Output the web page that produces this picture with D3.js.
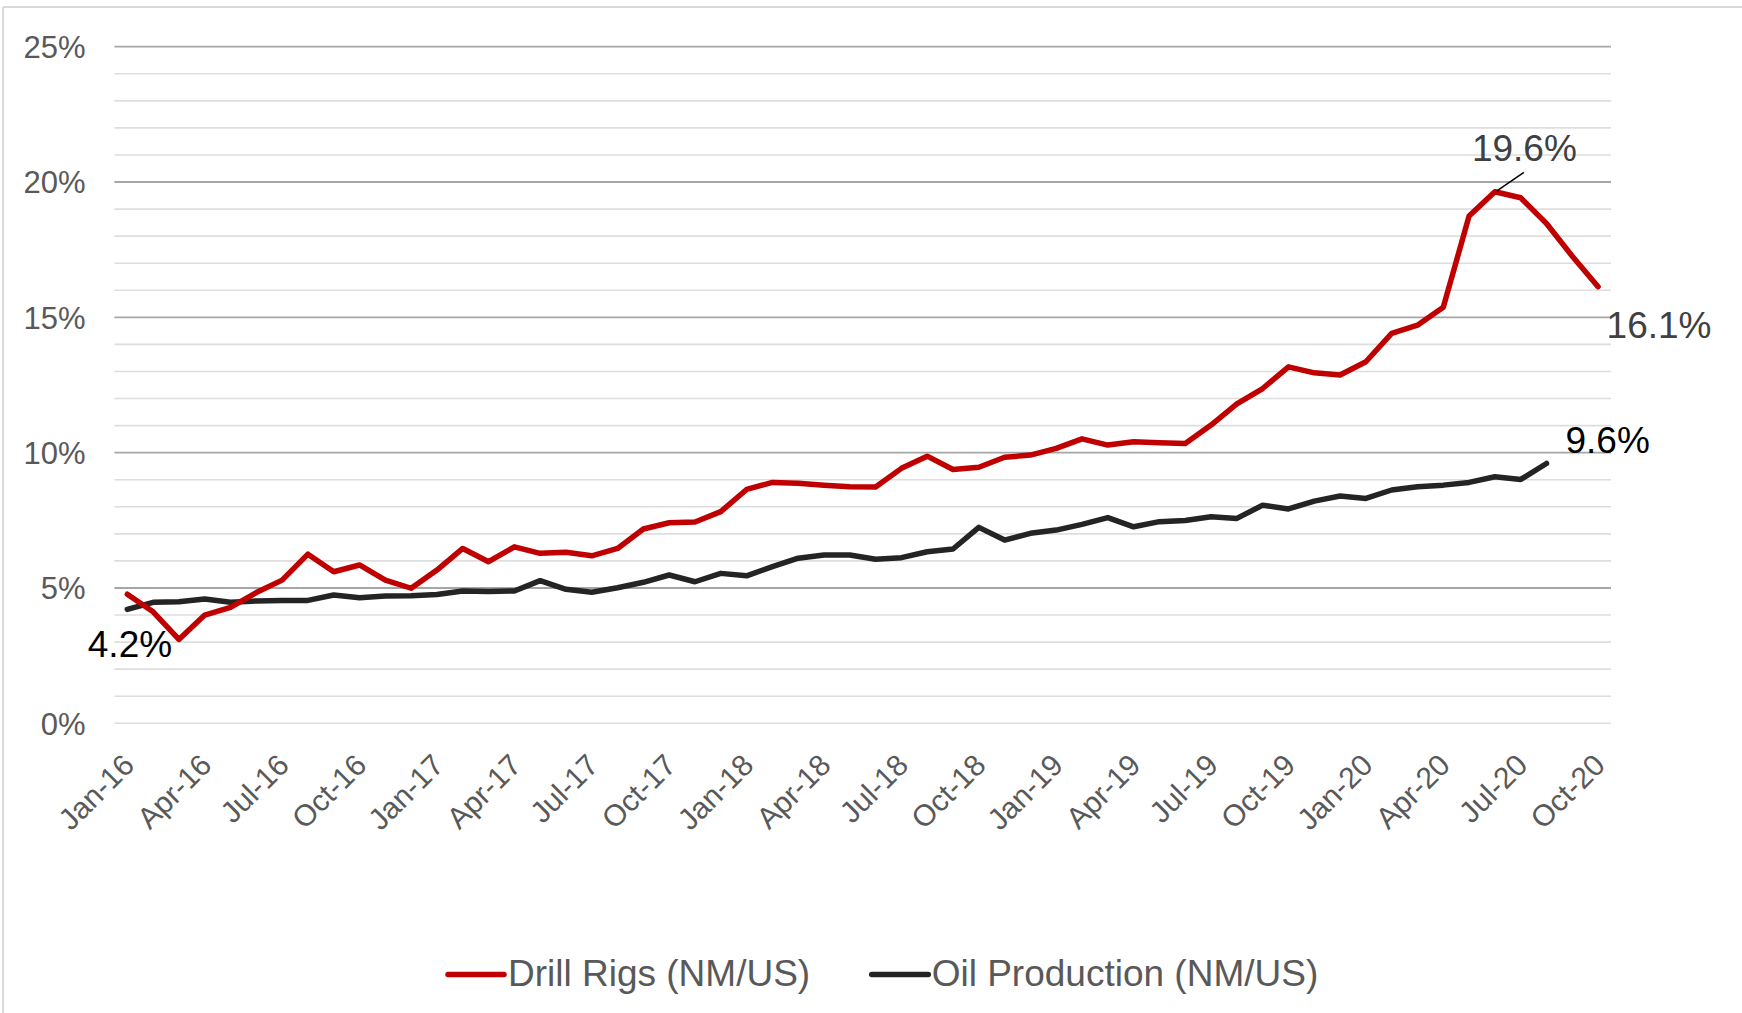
<!DOCTYPE html>
<html>
<head>
<meta charset="utf-8">
<script src="https://cdn.jsdelivr.net/npm/d3@7"></script>
<style>
  html, body { margin: 0; padding: 0; background: #fff; }
  svg { display: block; font-family: "Liberation Sans", Arial, sans-serif; }
</style>
</head>
<body>
<svg id="chart" width="1742" height="1013"></svg>
<script>
// ---- data ----
const months = [
  "Jan-16","Feb-16","Mar-16","Apr-16","May-16","Jun-16","Jul-16","Aug-16","Sep-16","Oct-16","Nov-16","Dec-16",
  "Jan-17","Feb-17","Mar-17","Apr-17","May-17","Jun-17","Jul-17","Aug-17","Sep-17","Oct-17","Nov-17","Dec-17",
  "Jan-18","Feb-18","Mar-18","Apr-18","May-18","Jun-18","Jul-18","Aug-18","Sep-18","Oct-18","Nov-18","Dec-18",
  "Jan-19","Feb-19","Mar-19","Apr-19","May-19","Jun-19","Jul-19","Aug-19","Sep-19","Oct-19","Nov-19","Dec-19",
  "Jan-20","Feb-20","Mar-20","Apr-20","May-20","Jun-20","Jul-20","Aug-20","Sep-20","Oct-20"
];
const tickLabels = ["Jan-16","Apr-16","Jul-16","Oct-16","Jan-17","Apr-17","Jul-17","Oct-17","Jan-18","Apr-18",
  "Jul-18","Oct-18","Jan-19","Apr-19","Jul-19","Oct-19","Jan-20","Apr-20","Jul-20","Oct-20"];
const drillRigs = [
  4.77, 4.12, 3.10, 4.00, 4.28, 4.83, 5.29, 6.25, 5.60, 5.85, 5.29, 4.99,
  5.66, 6.46, 5.97, 6.52, 6.28, 6.32, 6.19, 6.46, 7.18, 7.41, 7.44, 7.82,
  8.64, 8.90, 8.87, 8.80, 8.74, 8.73, 9.42, 9.87, 9.38, 9.46, 9.83, 9.91,
  10.16, 10.51, 10.28, 10.40, 10.37, 10.34, 11.02, 11.80, 12.37, 13.17, 12.95, 12.87,
  13.36, 14.41, 14.71, 15.37, 18.74, 19.64, 19.42, 18.47, 17.26, 16.13
];
const oilProduction = [
  4.21, 4.47, 4.49, 4.59, 4.47, 4.52, 4.54, 4.54, 4.74, 4.64, 4.70, 4.71,
  4.76, 4.89, 4.87, 4.89, 5.27, 4.95, 4.84, 5.01, 5.21, 5.48, 5.23, 5.54,
  5.45, 5.79, 6.10, 6.22, 6.22, 6.06, 6.12, 6.34, 6.44, 7.24, 6.77, 7.02,
  7.14, 7.35, 7.60, 7.26, 7.45, 7.49, 7.63, 7.57, 8.06, 7.92, 8.21, 8.40,
  8.31, 8.62, 8.74, 8.80, 8.90, 9.11, 9.01, 9.60
];
const seriesNames = ["Drill Rigs (NM/US)", "Oil Production (NM/US)"];
const majorTicks = [0, 5, 10, 15, 20, 25];
const minorTicks = d3.range(0, 26, 1);

// ---- layout ----
const W = 1742, H = 1013;
const plot = { left: 114.4, right: 1611, top: 46.7, bottom: 723.3 };
const svg = d3.select("#chart");

svg.append("rect").attr("width", W).attr("height", H).attr("fill", "#fff");
// chart frame (top and left edges visible)
svg.append("line").attr("x1", 3).attr("x2", W).attr("y1", 7).attr("y2", 7)
  .attr("stroke", "#d9d9d9").attr("stroke-width", 2);
svg.append("line").attr("x1", 3).attr("x2", 3).attr("y1", 7).attr("y2", H)
  .attr("stroke", "#d9d9d9").attr("stroke-width", 2);

const x = d3.scaleBand().domain(months).range([plot.left, plot.right]).padding(0);
const xc = m => x(m) + x.bandwidth() / 2;
const y = d3.scaleLinear().domain([0, 25]).range([plot.bottom, plot.top]);

// minor gridlines
svg.append("g").selectAll("line")
  .data(minorTicks.filter(v => v % 5 !== 0 || v === 0))
  .join("line")
  .attr("x1", plot.left).attr("x2", plot.right)
  .attr("y1", d => y(d)).attr("y2", d => y(d))
  .attr("stroke", "#dedede").attr("stroke-width", 1.6);

// major gridlines
svg.append("g").selectAll("line")
  .data(majorTicks.filter(v => v !== 0))
  .join("line")
  .attr("x1", plot.left).attr("x2", plot.right)
  .attr("y1", d => y(d)).attr("y2", d => y(d))
  .attr("stroke", "#a6a6a6").attr("stroke-width", 1.8);

// y axis labels
const yAxis = d3.axisLeft(y).tickValues(majorTicks).tickFormat(d => d + "%").tickSize(0).tickPadding(0);
const gy = svg.append("g").attr("transform", `translate(${85.5},0)`).call(yAxis);
gy.select(".domain").remove();
gy.selectAll("text").attr("fill", "#595959").style("font-size", "31px")
  .style("font-family", '"Liberation Sans", Arial, sans-serif').attr("dy", "0.35em");

// x axis labels
const gx = svg.append("g");
gx.selectAll("text").data(tickLabels).join("text")
  .attr("transform", d => `translate(${xc(d) + 1},${plot.bottom + 36}) rotate(-45)`)
  .attr("text-anchor", "end").attr("dy", "0.36em")
  .attr("fill", "#595959").style("font-size", "30px")
  .text(d => d);

// lines
const lineGen = d3.line().x((d, i) => xc(months[i])).y(d => y(d));
const series = [
  { name: seriesNames[0], values: drillRigs, color: "#c00000" },
  { name: seriesNames[1], values: oilProduction, color: "#242424" }
];
svg.append("g").selectAll("path").data(series.slice().reverse()).join("path")
  .attr("d", s => lineGen(s.values))
  .attr("fill", "none").attr("stroke", s => s.color).attr("stroke-width", 5.5)
  .attr("stroke-linejoin", "round").attr("stroke-linecap", "round");

// annotations
function pt(arr, i) { return [xc(months[i]), y(arr[i])]; }
const ann = svg.append("g").style("font-size", "37px");
{
  const [px, py] = pt(oilProduction, 0);
  ann.append("text").attr("x", px - 39.5).attr("y", py + 47.5).attr("fill", "#000").text("4.2%");
}
{
  const i = oilProduction.length - 1;
  const [px, py] = pt(oilProduction, i);
  ann.append("text").attr("x", px + 19).attr("y", py - 10.8).attr("fill", "#000").text("9.6%");
}
{
  const i = drillRigs.indexOf(d3.max(drillRigs));
  const [px, py] = pt(drillRigs, i);
  ann.append("line").attr("x1", px + 2).attr("y1", py - 1).attr("x2", px + 29).attr("y2", py - 19.4)
    .attr("stroke", "#000").attr("stroke-width", 1.5);
  ann.append("text").attr("x", px - 23).attr("y", py - 31.2).attr("fill", "#404040").text("19.6%");
}
{
  const i = drillRigs.length - 1;
  const [px, py] = pt(drillRigs, i);
  ann.append("text").attr("x", px + 8.5).attr("y", py + 51.3).attr("fill", "#404040").text("16.1%");
}

// legend
const legendItems = [
  { x0: 448, x1: 504, tx: 508 },
  { x0: 871.7, x1: 928.3, tx: 931.7 }
];
const lg = svg.append("g");
series.forEach((s, k) => {
  const L = legendItems[k];
  lg.append("line").attr("x1", L.x0).attr("x2", L.x1).attr("y1", 974.5).attr("y2", 974.5)
    .attr("stroke", s.color).attr("stroke-width", 5.5).attr("stroke-linecap", "round");
  lg.append("text").attr("x", L.tx).attr("y", 986.3).attr("fill", "#595959")
    .style("font-size", "37px").text(s.name);
});
</script>
</body>
</html>
